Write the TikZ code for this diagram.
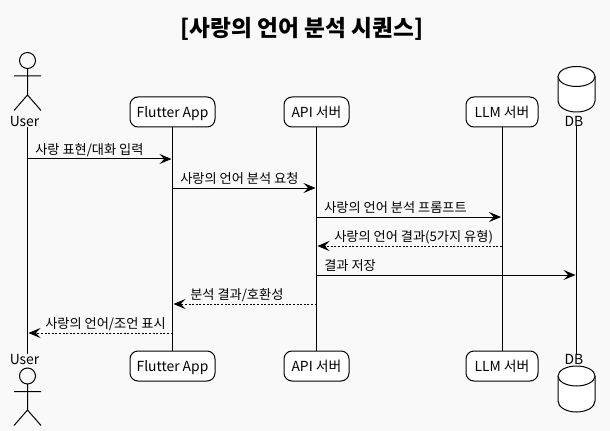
\documentclass[tikz,border=0pt]{standalone}
\usepackage{fontspec}
\usetikzlibrary{arrows.meta}
\setmainfont{Noto Sans CJK KR}
\definecolor{pagebg}{HTML}{F9F9F9}
\tikzset{
	lane/.style={draw,rounded corners=6pt,fill=white,line width=0.75pt,minimum height=22.5pt,inner sep=0pt,text height=9.5pt,text depth=1pt,font=\fontsize{10.4}{12}\selectfont},
	tag/.style={inner sep=0pt,font=\fontsize{10.4}{12}\selectfont},
	msgtext/.style={anchor=west,inner sep=0pt,font=\fontsize{9.9}{12}\selectfont},
	msg/.style={line width=0.75pt,shorten >=0.75pt,-{Stealth[length=9pt,width=7.5pt,inset=3.5pt]}},
	reply/.style={msg,line width=0.6pt,dash pattern=on 1.5pt off 1.2pt},
	stick/.style={line width=0.75pt},
	drum/.style={line width=0.75pt,fill=white}
}
\begin{document}
\begin{tikzpicture}[x=0.75pt,y=-0.75pt]
	\fill [pagebg] (0,0) rectangle (610,431);
	\useasboundingbox (0,0) rectangle (610,431);
	\draw (302,29) node [inner sep=0pt,font=\fontsize{17}{20}\selectfont\bfseries] (title) {[사랑의 언어 분석 시퀀스]};
	% top row
	\draw (172.5,112) node [lane,minimum width=63.75pt] (appTop) {Flutter App};
	\draw (316.5,112) node [lane,minimum width=48.75pt] (apiTop) {API 서버};
	\draw (502,112) node [lane,minimum width=54pt] (llmTop) {LLM 서버};
	\draw (24.5,122) node [tag] (userTop) {User};
	\draw (574,121) node [tag] (dbTop) {DB};
	% bottom row
	\draw (172.5,366) node [lane,minimum width=63.75pt] (appBot) {Flutter App};
	\draw (316.5,366) node [lane,minimum width=48.75pt] (apiBot) {API 서버};
	\draw (502,366) node [lane,minimum width=54pt] (llmBot) {LLM 서버};
	\draw (24.5,359.5) node [tag] (userBot) {User};
	\draw (574,359) node [tag] (dbBot) {DB};
	% actors
	\draw [stick] (27.5,60.5) circle (8);
	\draw [stick] (27.5,68.5) -- (27.5,95) (14,76) -- (41,76) (14,110.5) -- (27.5,95) -- (41,110.5);
	\draw [stick] (27.5,376) circle (8);
	\draw [stick] (27.5,384) -- (27.5,410) (14,391.5) -- (41,391.5) (14,425.5) -- (27.5,410) -- (41,425.5);
	% drums
	\draw [drum] (558,76.5) -- (558,101) arc [start angle=180,end angle=0,x radius=18.5,y radius=11] -- (595,76.5);
	\draw [drum] (576.5,76.5) ellipse [x radius=18.5,y radius=10];
	\draw [drum] (558,376) -- (558,401) arc [start angle=180,end angle=0,x radius=18.5,y radius=11] -- (595,376);
	\draw [drum] (576.5,376) ellipse [x radius=18.5,y radius=10];
	% lifelines
	\coordinate (userLine) at (27.5,0);
	\coordinate (dbLine) at (576.5,0);
	\draw [stick] (userLine|-userTop.south) -- (userLine|-userBot.north);
	\draw [stick] (appTop) -- (appBot);
	\draw [stick] (apiTop) -- (apiBot);
	\draw [stick] (llmTop) -- (llmBot);
	\draw [stick] (dbLine|-dbTop.south) -- (dbLine|-dbBot.north);
	% message rows
	\coordinate (m1) at (0,159);
	\coordinate (m2) at (0,188);
	\coordinate (m3) at (0,217);
	\coordinate (m4) at (0,246);
	\coordinate (m5) at (0,275);
	\coordinate (m6) at (0,304);
	\coordinate (m7) at (0,333);
	\draw [msg] (userLine|-m1) -- (appTop.south|-m1);
	\draw (35,150) node [msgtext] (t1) {사랑 표현/대화 입력};
	\draw [msg] (appTop.south|-m2) -- (apiTop.south|-m2);
	\draw (180,178.5) node [msgtext] (t2) {사랑의 언어 분석 요청};
	\draw [msg] (apiTop.south|-m3) -- (llmTop.south|-m3);
	\draw (324,207.5) node [msgtext] (t3) {사랑의 언어 분석 프롬프트};
	\draw [reply] (llmTop.south|-m4) -- (apiTop.south|-m4);
	\draw (334,237) node [msgtext] (t4) {사랑의 언어 결과(5가지 유형)};
	\draw [msg] (apiTop.south|-m5) -- (dbLine|-m5);
	\draw (324,266) node [msgtext] (t5) {결과 저장};
	\draw [reply] (apiTop.south|-m6) -- (appTop.south|-m6);
	\draw (190,295.5) node [msgtext] (t6) {분석 결과/호환성};
	\draw [reply] (appTop.south|-m7) -- (userLine|-m7);
	\draw (45,324.5) node [msgtext] (t7) {사랑의 언어/조언 표시};
\end{tikzpicture}
\end{document}
